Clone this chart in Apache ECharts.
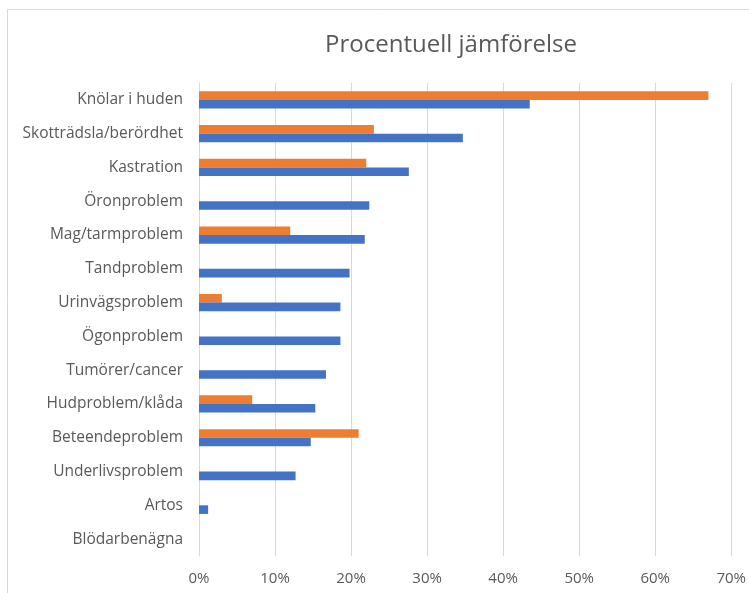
<!DOCTYPE html>
<html>
<head>
<meta charset="utf-8">
<script src="https://cdn.jsdelivr.net/npm/echarts@6/dist/echarts.min.js"></script>
<style>
html,body{margin:0;padding:0;background:#fff;}
#chart{width:749px;height:593px;}
</style>
</head>
<body>
<div id="chart"></div>
<script>
const categories = ["Knölar i huden","Skotträdsla/berördhet","Kastration","Öronproblem","Mag/tarmproblem","Tandproblem","Urinvägsproblem","Ögonproblem","Tumörer/cancer","Hudproblem/klåda","Beteendeproblem","Underlivsproblem","Artos","Blödarbenägna"];
const orangeValues = [67, 23, 22, null, 12, null, 3, null, null, 7, 21, null, null, null];
const blueValues = [43.5, 34.7, 27.6, 22.4, 21.8, 19.8, 18.6, 18.6, 16.7, 15.3, 14.7, 12.7, 1.2, 0];
const xTicks = [0, 10, 20, 30, 40, 50, 60, 70];

const chart = echarts.init(document.getElementById('chart'));
chart.setOption({
  animation: false,
  backgroundColor: '#ffffff',
  graphic: [{
    type: 'rect', shape: {x: 7.5, y: 9.5, width: 760, height: 600},
    style: {fill: 'none', stroke: '#d9d9d9', lineWidth: 1}, silent: true
  }],
  title: {
    text: 'Procentuell jämförelse', left: 446, top: 28, textAlign: 'center',
    textStyle: {fontFamily: 'Open Sans', fontSize: 24, fontWeight: 'normal', color: '#595959'}
  },
  grid: {left: 199, right: 17, top: 83, bottom: 37, containLabel: false},
  xAxis: {
    type: 'value', min: xTicks[0], max: xTicks[xTicks.length - 1], interval: 10,
    axisLine: {show: false}, axisTick: {show: false},
    splitLine: {show: true, lineStyle: {color: '#d9d9d9', width: 1}},
    axisLabel: {formatter: v => v + '%', color: '#595959', fontFamily: 'Open Sans', fontSize: 15, margin: 15}
  },
  yAxis: {
    type: 'category', data: categories, inverse: true,
    axisLine: {show: true, lineStyle: {color: '#d9d9d9'}}, axisTick: {show: false},
    axisLabel: {color: '#595959', fontFamily: 'Open Sans', fontSize: 15.5, margin: 16}
  },
  series: [
    {name: 'Orange', type: 'bar', data: orangeValues, itemStyle: {color: '#ED7D31'}, barGap: '0%', barCategoryGap: '49%'},
    {name: 'Blå', type: 'bar', data: blueValues, itemStyle: {color: '#4472C4'}, barGap: '0%', barCategoryGap: '49%'}
  ]
});
</script>
</body>
</html>
